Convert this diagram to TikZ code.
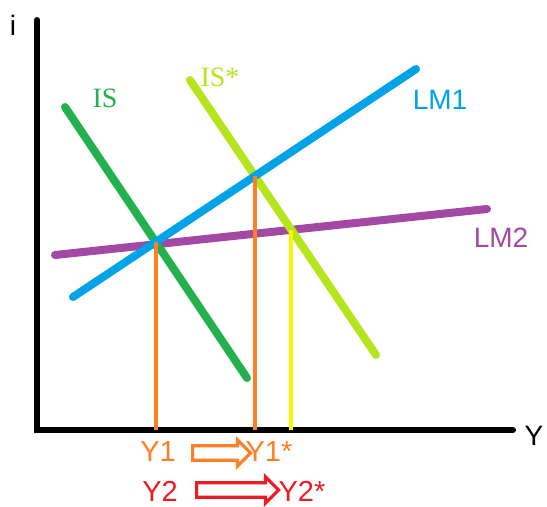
\documentclass[tikz,border=0pt]{standalone}
\usepackage{fontspec}
\setmainfont{Liberation Sans}
\newfontfamily\isfont{Liberation Serif}
\usetikzlibrary{intersections, shapes.arrows, calc}
\definecolor{isgreen}{HTML}{22B14C}
\definecolor{islime}{HTML}{B5E61D}
\definecolor{lmblue}{HTML}{00A2E8}
\definecolor{lmpurple}{HTML}{A349A4}
\definecolor{yorange}{HTML}{FF7F27}
\definecolor{yyellow}{HTML}{FFF200}
\definecolor{yred}{HTML}{ED1C24}
\tikzset{
  axisline/.style={line width=3pt, line cap=round, draw=black},
  curve/.style={line width=4pt, line cap=round, draw=#1},
  drop/.style={line width=2pt, draw=#1},
  curvelabel/.style={font=\fontsize{14}{16}\selectfont, text=#1, inner sep=0pt},
  islabel/.style={font=\isfont\fontsize{14}{16}\selectfont, text=#1, inner sep=0pt},
  ylabel/.style={font=\fontsize{14.5}{16}\selectfont, text=#1, inner sep=0pt},
  shiftarrow/.style={
    single arrow, draw=#1, line width=1.6pt, fill=white,
    inner xsep=0pt, inner ysep=2.8pt, single arrow head extend=3pt,
    single arrow head indent=0pt, shape border uses incircle=false
  }
}

\begin{document}
\begin{tikzpicture}[x=0.5pt, y=-0.5pt]
  \useasboundingbox (0,0) rectangle (547,507);

  % axes
  \coordinate (origin) at (37,430);
  \coordinate (itop) at (37,20);
  \coordinate (yend) at (513,430);
  \draw[axisline] (itop) -- (origin) -- (yend);
  \node[curvelabel=black] (ilabel) at (13,25) {i};
  \node[curvelabel=black] (ylab) at (534,436) {Y};

  % curve end points
  \coordinate (is1) at (65,107);   \coordinate (is2) at (247,378);
  \coordinate (iss1) at (190,80);  \coordinate (iss2) at (376,355);
  \coordinate (lma1) at (73,297);  \coordinate (lma2) at (416,69);
  \coordinate (lmb1) at (55,255);  \coordinate (lmb2) at (487,209);

  \draw[curve=lmpurple, name path=lm2] (lmb1) -- (lmb2);
  \draw[curve=isgreen, name path=is] (is1) -- (is2);
  \draw[curve=islime, name path=iss] (iss1) -- (iss2);
  \draw[curve=lmblue, name path=lm1] (lma1) -- (lma2);

  \node[islabel=isgreen] (islab) at (105,98) {IS};
  \node[islabel=islime] (isslab) at (220,77) {IS*};
  \node[curvelabel=lmblue] (lm1lab) at (440,100) {LM1};
  \node[curvelabel=lmpurple] (lm2lab) at (501,238) {LM2};

  % equilibria
  \path[name intersections={of=is and lm1, by=e1}];
  \path[name intersections={of=iss and lm1, by=e2}];
  \path[name intersections={of=iss and lm2, by=e3}];
  \draw[drop=yorange] (e1) -- (e1 |- origin);
  \draw[drop=yorange] (e2) -- (e2 |- origin);
  \draw[drop=yyellow] (e3) -- (e3 |- origin);

  % output labels
  \node[ylabel=yorange] (y1) at (158,452) {Y1};
  \node[ylabel=yorange] (y1s) at (269,452) {Y1*};
  \node[ylabel=yred] (y2) at (160,491) {Y2};
  \node[ylabel=yred] (y2s) at (302,491) {Y2*};
  \node[shiftarrow=yorange, minimum height=29pt] (arr1) at (218,453) {};
  \node[shiftarrow=yred, minimum height=41pt] (arr2) at (234,490) {};
\end{tikzpicture}
\end{document}
